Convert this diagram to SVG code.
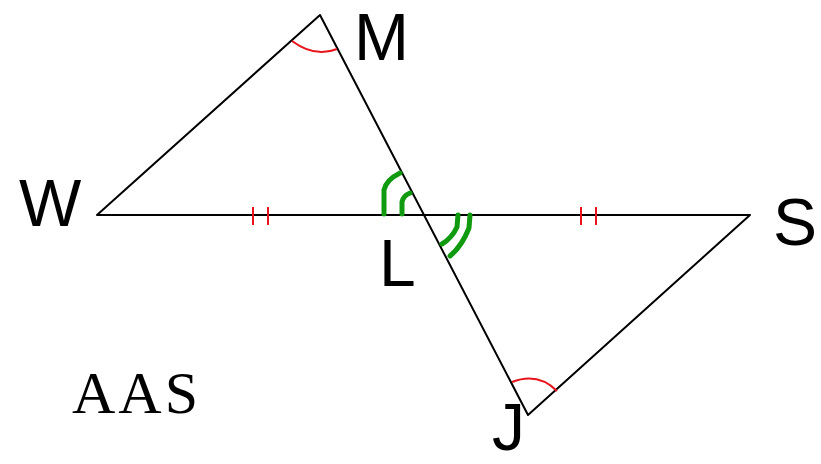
<svg xmlns="http://www.w3.org/2000/svg" width="821" height="464" viewBox="0 0 821 464">
<style>
.ln{stroke:#000;stroke-width:2;fill:none;stroke-linecap:round;stroke-linejoin:round}
.red{stroke:#e8141c;stroke-width:2;fill:none}
.grn{stroke:#109a10;stroke-width:5;fill:none;stroke-linecap:round;stroke-linejoin:round}
.lbl{font-family:"Liberation Sans",Arial,sans-serif;font-size:66px;fill:#000}
.ser{font-family:"Liberation Serif","Times New Roman",serif;font-size:60px;fill:#000;letter-spacing:3px}
</style>
<rect width="821" height="464" fill="#fff"/>
<g id="connectors">
<polyline class="ln" points="97,215 320,15 528,415 750,215 97,215"/>
</g>
<g id="marks">
<path class="red" d="M292,41 Q315,58 337,49"/>
<path class="red" d="M512,382 Q538,372 557,391"/>
<line class="red" x1="253" y1="207" x2="253" y2="225"/>
<line class="red" x1="268" y1="207" x2="268" y2="225"/>
<line class="red" x1="581" y1="207" x2="581" y2="225"/>
<line class="red" x1="596" y1="207" x2="596" y2="225"/>
<path class="grn" d="M384,214 L384,190 Q386,180 400,173"/>
<path class="grn" d="M402,214 L402,202 Q403,196 410,193"/>
<path class="grn" d="M470,215 L469,228 Q462,246 450,256"/>
<path class="grn" d="M458,215 L457,227 Q452,238 442,244"/>
</g>
<g id="W"><text class="lbl" x="19" y="226">W</text></g>
<g id="M"><text class="lbl" x="354" y="60">M</text></g>
<g id="S"><text class="lbl" x="773" y="245">S</text></g>
<g id="L"><text class="lbl" x="379" y="286">L</text></g>
<g id="J"><text class="lbl" x="492" y="450">J</text></g>
<g id="AAS"><text class="ser" x="72" y="413">AAS</text></g>
</svg>
